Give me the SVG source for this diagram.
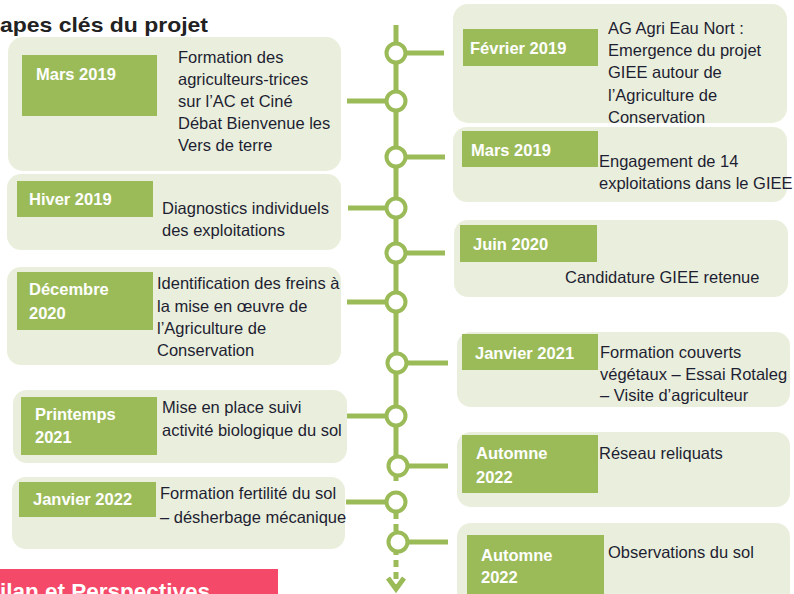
<svg xmlns="http://www.w3.org/2000/svg" width="794" height="594" viewBox="0 0 794 594">
<defs>
<style>
.card{fill:#EAEFDD}
.lab{fill:#9BBB59}
.lt{font-family:"Liberation Sans",Arial,sans-serif;font-size:16.5px;font-weight:bold;fill:#ffffff}
.dt{font-family:"Liberation Sans",Arial,sans-serif;font-size:16.5px;fill:#1e1e32}
.ln{stroke:#9BBB59;stroke-width:5;fill:none}
.dot{fill:#ffffff;stroke:#9BBB59;stroke-width:4}
</style>
</defs>
<rect width="794" height="594" fill="#ffffff"/>
<text x="0" y="32" font-family="'Liberation Sans',Arial,sans-serif" font-size="21" font-weight="bold" fill="#222222" textLength="208" lengthAdjust="spacingAndGlyphs">apes clés du projet</text>

<g id="connectors">
<line class="ln" x1="396" y1="25" x2="396" y2="481"/>
<line class="ln" x1="396" y1="492" x2="396" y2="512"/>
<line class="ln" x1="396" y1="512" x2="396" y2="588" stroke-dasharray="7 5"/>
<polyline class="ln" points="388,578 396,589 404,578" stroke-width="4"/>
<line class="ln" x1="396" y1="53" x2="444" y2="53"/>
<line class="ln" x1="347" y1="101" x2="396" y2="101"/>
<line class="ln" x1="396" y1="157" x2="445" y2="157"/>
<line class="ln" x1="348" y1="208" x2="396" y2="208"/>
<line class="ln" x1="396" y1="253" x2="445" y2="253"/>
<line class="ln" x1="347" y1="302" x2="396" y2="302"/>
<line class="ln" x1="397" y1="363" x2="448" y2="363"/>
<line class="ln" x1="347" y1="416" x2="396" y2="416"/>
<line class="ln" x1="398" y1="466" x2="448" y2="466"/>
<line class="ln" x1="346" y1="502" x2="396" y2="502"/>
<line class="ln" x1="398" y1="542" x2="448" y2="542"/>
<circle class="dot" cx="396" cy="53" r="9.5"/>
<circle class="dot" cx="396" cy="101" r="9.5"/>
<circle class="dot" cx="396" cy="157" r="9.5"/>
<circle class="dot" cx="396" cy="208" r="9.5"/>
<circle class="dot" cx="396" cy="253" r="9.5"/>
<circle class="dot" cx="396" cy="302" r="9.5"/>
<circle class="dot" cx="397" cy="363" r="9.5"/>
<circle class="dot" cx="396" cy="416" r="9.5"/>
<circle class="dot" cx="398" cy="466" r="9.5"/>
<circle class="dot" cx="396" cy="502" r="9.5"/>
<circle class="dot" cx="398" cy="542" r="9.5"/>
</g>

<g id="l1">
<rect class="card" x="8" y="37" width="333" height="134" rx="15"/>
<rect class="lab" x="22" y="55" width="135" height="61"/>
<text class="lt" x="36" y="80">Mars 2019</text>
<text class="dt"><tspan x="178" y="63">Formation des</tspan><tspan x="178" y="85">agriculteurs-trices</tspan><tspan x="178" y="107">sur l’AC et Ciné</tspan><tspan x="178" y="129">Débat Bienvenue les</tspan><tspan x="178" y="151">Vers de terre</tspan></text>
</g>

<g id="l2">
<rect class="card" x="7" y="174" width="334" height="76" rx="14"/>
<rect class="lab" x="17" y="181" width="136" height="36"/>
<text class="lt" x="29" y="205">Hiver 2019</text>
<text class="dt"><tspan x="162" y="214">Diagnostics individuels</tspan><tspan x="162" y="236">des exploitations</tspan></text>
</g>

<g id="l3">
<rect class="card" x="7" y="267" width="334" height="98" rx="14"/>
<rect class="lab" x="17" y="272" width="136" height="58"/>
<text class="lt"><tspan x="29" y="295">Décembre</tspan><tspan x="29" y="319">2020</tspan></text>
<text class="dt"><tspan x="157" y="289">Identification des freins à</tspan><tspan x="157" y="312">la mise en œuvre de</tspan><tspan x="157" y="334">l’Agriculture de</tspan><tspan x="157" y="356">Conservation</tspan></text>
</g>

<g id="l4">
<rect class="card" x="13" y="390" width="334" height="73" rx="14"/>
<rect class="lab" x="21" y="397" width="136" height="58"/>
<text class="lt"><tspan x="35" y="420">Printemps</tspan><tspan x="35" y="443">2021</tspan></text>
<text class="dt"><tspan x="162" y="413">Mise en place suivi</tspan><tspan x="162" y="436">activité biologique du sol</tspan></text>
</g>

<g id="l5">
<rect class="card" x="12" y="477" width="333" height="72" rx="14"/>
<rect class="lab" x="19" y="482" width="137" height="35"/>
<text class="lt" x="33" y="505">Janvier 2022</text>
<text class="dt"><tspan x="160" y="499">Formation fertilité du sol</tspan><tspan x="160" y="523">– désherbage mécanique</tspan></text>
</g>

<g id="r1">
<rect class="card" x="453" y="4" width="334" height="119" rx="15"/>
<rect class="lab" x="463" y="29" width="135" height="37"/>
<text class="lt" x="470" y="54">Février 2019</text>
<text class="dt"><tspan x="608" y="34">AG Agri Eau Nort :</tspan><tspan x="608" y="56">Emergence du projet</tspan><tspan x="608" y="78">GIEE autour de</tspan><tspan x="608" y="101">l’Agriculture de</tspan><tspan x="608" y="123">Conservation</tspan></text>
</g>

<g id="r2">
<rect class="card" x="453" y="127" width="334" height="75" rx="14"/>
<rect class="lab" x="462" y="131" width="136" height="36"/>
<text class="lt" x="471" y="156">Mars 2019</text>
<text class="dt"><tspan x="599" y="167">Engagement de 14</tspan><tspan x="599" y="189">exploitations dans le GIEE</tspan></text>
</g>

<g id="r3">
<rect class="card" x="454" y="220" width="334" height="77" rx="14"/>
<rect class="lab" x="460" y="225" width="137" height="37"/>
<text class="lt" x="473" y="250">Juin 2020</text>
<text class="dt" x="565" y="283">Candidature GIEE retenue</text>
</g>

<g id="r4">
<rect class="card" x="457" y="332" width="333" height="75" rx="14"/>
<rect class="lab" x="462" y="334" width="136" height="36"/>
<text class="lt" x="475" y="359">Janvier 2021</text>
<text class="dt"><tspan x="600" y="358">Formation couverts</tspan><tspan x="600" y="380">végétaux – Essai Rotaleg</tspan><tspan x="600" y="401">– Visite d’agriculteur</tspan></text>
</g>

<g id="r5">
<rect class="card" x="457" y="432" width="333" height="75" rx="14"/>
<rect class="lab" x="462" y="435" width="136" height="58"/>
<text class="lt"><tspan x="476" y="459">Automne</tspan><tspan x="476" y="483">2022</tspan></text>
<text class="dt" x="599" y="459">Réseau reliquats</text>
</g>

<g id="r6">
<rect class="card" x="457" y="523" width="333" height="90" rx="14"/>
<rect class="lab" x="467" y="535" width="137" height="60"/>
<text class="lt"><tspan x="481" y="561">Automne</tspan><tspan x="481" y="583">2022</tspan></text>
<text class="dt" x="608" y="558">Observations du sol</text>
</g>

<g id="bilan">
<rect x="0" y="569" width="278" height="25" fill="#F5496A"/>
<text x="0" y="599" font-family="'Liberation Sans',Arial,sans-serif" font-size="22" font-weight="bold" fill="#ffffff" textLength="210" lengthAdjust="spacingAndGlyphs">ilan et Perspectives</text>
</g>
</svg>
